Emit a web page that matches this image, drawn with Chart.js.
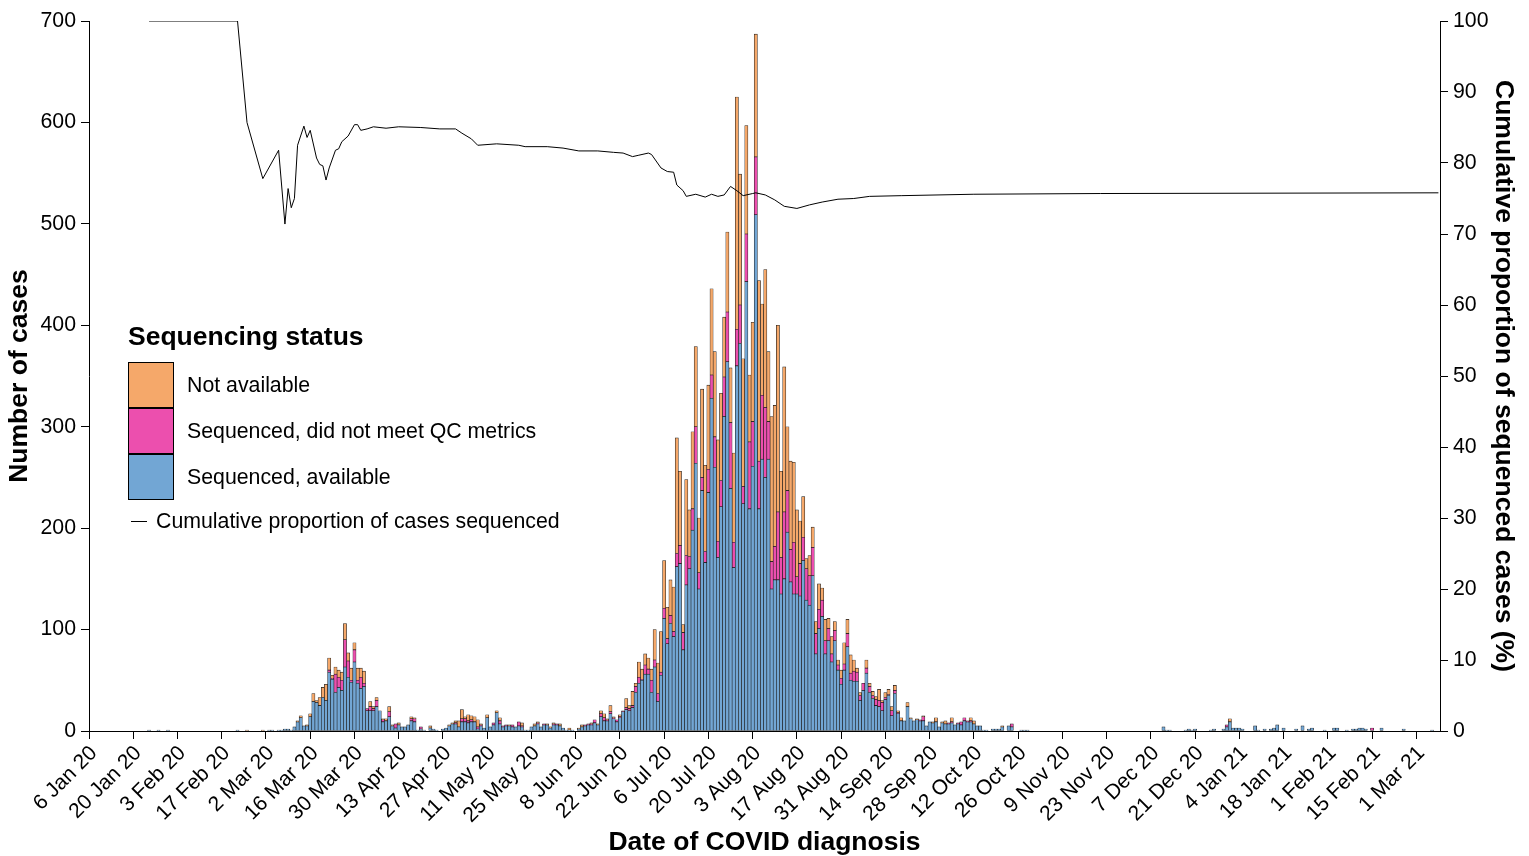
<!DOCTYPE html>
<html lang="en">
<head>
  <meta charset="UTF-8" />
  <title>Sequencing status by date of COVID diagnosis</title>
  <style>
    body {
      margin: 0;
      background: #fff;
    }

    .wrap {
      position: relative;
      width: 1529px;
      height: 856px;
      font-family: 'Liberation Sans', Arial, sans-serif;
      color: #000;
    }

    canvas {
      position: absolute;
      left: 0;
      top: 0;
    }

    .legend-title {
      position: absolute;
      left: 128px;
      top: 321px;
      font-weight: bold;
      font-size: 26.5px;
      line-height: 30px;
      white-space: nowrap;
    }

    .swatch {
      position: absolute;
      left: 128px;
      width: 46px;
      height: 46px;
      box-sizing: border-box;
      border: 1px solid #000;
    }

    .lab {
      position: absolute;
      font-size: 21.3px;
      line-height: 46px;
      height: 46px;
      white-space: nowrap;
    }

    .dash {
      position: absolute;
      left: 131px;
      top: 521px;
      width: 16px;
      border-top: 1.5px solid #000;
    }
  </style>
</head>
<body>
  <div class="wrap">
    <canvas id="casesChart" width="1529" height="856"></canvas>

    <div class="legend-title">Sequencing status</div>
    <div class="swatch" style="top:362px; background:#F5A86A;"></div>
    <div class="swatch" style="top:408px; background:#EC4FAE;"></div>
    <div class="swatch" style="top:454px; background:#72A6D4;"></div>
    <div class="lab" style="left:187px; top:362px;">Not available</div>
    <div class="lab" style="left:187px; top:408px;">Sequenced, did not meet QC metrics</div>
    <div class="lab" style="left:187px; top:454px;">Sequenced, available</div>
    <div class="dash"></div>
    <div class="lab" style="left:156px; top:498px;">Cumulative proportion of cases sequenced</div>
  </div>

  <script src="https://cdn.jsdelivr.net/npm/chart.js"></script>
<script>
  // day numbers count from 6 Jan 2020 (day 0)
  const months = ['Jan', 'Feb', 'Mar', 'Apr', 'May', 'Jun', 'Jul', 'Aug', 'Sep', 'Oct', 'Nov', 'Dec'];

  // a few isolated cases before the first wave
  const earlyDays = [19, 22, 25, 47, 50];
  const earlyAvailable = [1, 1, 1, 1, 0];
  const earlyFailedQC = [0, 0, 0, 0, 0];
  const earlyNotAvailable = [0, 0, 0, 0, 1];

  // consecutive days 55 .. 297, ten per row
  const mainFirstDay = 55;
  const mainAvailable = [
    0, 0, 1, 1, 0, 1, 1, 2, 2, 1,
    4, 9, 13, 5, 5, 14, 29, 28, 25, 33,
    30, 58, 51, 38, 43, 40, 63, 53, 48, 68,
    47, 42, 44, 20, 20, 20, 24, 20, 9, 10,
    14, 5, 3, 6, 4, 4, 6, 10, 9, 1,
    2, 1, 0, 3, 2, 1, 0, 2, 3, 5,
    7, 7, 4, 9, 9, 8, 9, 9, 2, 5,
    3, 13, 4, 6, 18, 7, 4, 5, 5, 4,
    4, 5, 4, 1, 1, 4, 5, 7, 4, 6,
    6, 3, 6, 6, 5, 3, 1, 1, 1, 0,
    2, 4, 5, 6, 6, 8, 6, 14, 10, 10,
    17, 12, 9, 13, 19, 21, 20, 23, 38, 47,
    50, 56, 56, 38, 63, 29, 55, 111, 86, 106,
    93, 162, 165, 80, 144, 160, 198, 264, 140, 237,
    166, 235, 328, 260, 171, 221, 310, 364, 239, 161,
    360, 382, 224, 443, 219, 261, 509, 219, 268, 250,
    268, 140, 149, 149, 135, 150, 196, 147, 135, 135,
    133, 168, 129, 124, 153, 76, 101, 113, 76, 89,
    68, 89, 60, 46, 60, 83, 50, 49, 49, 30,
    40, 57, 38, 32, 25, 24, 20, 31, 35, 15,
    37, 17, 10, 10, 24, 12, 10, 11, 10, 10,
    5, 9, 8, 9, 4, 8, 7, 7, 8, 6,
    7, 6, 10, 9, 9, 7, 5, 5, 1, 1,
    0, 2, 2, 2, 4, 0, 5, 4, 0, 0,
    1, 1, 1
  ];
  const mainFailedQC = [
    0, 0, 0, 0, 0, 0, 0, 0, 0, 0,
    0, 0, 0, 0, 0, 0, 0, 0, 0, 0,
    0, 2, 1, 18, 10, 10, 27, 16, 2, 12,
    3, 11, 3, 2, 4, 2, 6, 0, 2, 0,
    5, 0, 4, 0, 0, 0, 0, 2, 3, 0,
    2, 0, 0, 0, 0, 0, 0, 0, 0, 0,
    0, 1, 0, 3, 3, 2, 2, 0, 2, 1,
    0, 0, 0, 2, 0, 3, 1, 1, 0, 2,
    0, 4, 1, 0, 0, 0, 0, 1, 0, 1,
    0, 0, 1, 1, 0, 0, 0, 0, 0, 0,
    0, 0, 1, 1, 1, 3, 0, 3, 3, 1,
    2, 1, 2, 1, 1, 2, 2, 2, 6, 6,
    1, 9, 5, 12, 7, 8, 3, 10, 5, 8,
    5, 13, 18, 17, 29, 12, 21, 36, 16, 13,
    11, 23, 23, 30, 16, 26, 39, 49, 65, 25,
    36, 38, 17, 47, 66, 44, 57, 47, 63, 69,
    37, 27, 33, 67, 36, 66, 41, 32, 51, 17,
    32, 23, 31, 29, 28, 20, 19, 16, 13, 12,
    8, 10, 5, 6, 6, 13, 7, 10, 9, 5,
    7, 5, 6, 3, 6, 6, 8, 2, 1, 5,
    3, 1, 0, 0, 0, 0, 0, 0, 1, 4,
    0, 0, 0, 0, 0, 0, 0, 1, 1, 0,
    1, 3, 3, 1, 1, 0, 0, 0, 0, 0,
    0, 0, 0, 0, 0, 0, 0, 3, 0, 0,
    0, 0, 0
  ];
  const mainNotAvailable = [
    1, 0, 0, 0, 0, 0, 0, 0, 0, 0,
    0, 1, 2, 0, 1, 3, 8, 2, 8, 10,
    16, 12, 3, 7, 7, 8, 16, 8, 12, 7,
    12, 9, 12, 0, 5, 2, 3, 0, 1, 2,
    5, 1, 0, 2, 0, 0, 0, 2, 1, 0,
    0, 0, 0, 2, 0, 0, 0, 0, 0, 1,
    1, 2, 6, 9, 2, 6, 4, 5, 7, 1,
    0, 3, 0, 0, 2, 3, 0, 0, 1, 0,
    0, 0, 3, 0, 0, 0, 2, 1, 0, 0,
    1, 1, 1, 0, 2, 0, 0, 2, 0, 0,
    1, 2, 0, 0, 1, 0, 1, 3, 4, 1,
    6, 1, 0, 2, 0, 9, 3, 14, 3, 15,
    10, 11, 11, 11, 30, 30, 40, 47, 31, 35,
    44, 114, 73, 8, 75, 46, 76, 79, 54, 87,
    85, 83, 85, 84, 100, 86, 59, 79, 54, 88,
    229, 129, 126, 107, 66, 98, 121, 178, 90, 136,
    69, 143, 139, 184, 85, 143, 63, 87, 79, 66,
    42, 40, 10, 20, 20, 12, 25, 12, 21, 10,
    17, 9, 5, 8, 21, 14, 18, 11, 4, 3,
    0, 8, 3, 4, 3, 11, 2, 5, 5, 4,
    5, 2, 3, 0, 4, 1, 0, 1, 0, 1,
    0, 0, 1, 4, 0, 1, 3, 0, 4, 0,
    0, 0, 0, 0, 3, 3, 0, 0, 0, 0,
    0, 0, 0, 0, 1, 0, 0, 0, 0, 0,
    0, 0, 0
  ];

  // scattered cases in winter 2020/21
  const tailDays = [
    340, 341, 342, 347, 348, 349, 350, 355, 356, 359,
    360, 361, 362, 363, 364, 365, 369, 370, 372, 374,
    375, 376, 378, 382, 384, 386, 387, 391, 394, 395,
    398, 400, 401, 402, 403, 404, 406, 409, 416, 425
  ];
  const tailAvailable = [
    4, 1, 1, 1, 2, 1, 2, 1, 2, 2,
    4, 9, 3, 3, 3, 2, 5, 1, 2, 2,
    3, 6, 3, 2, 5, 2, 3, 1, 3, 3,
    1, 2, 2, 3, 3, 2, 0, 3, 2, 1
  ];
  const tailFailedQC = [
    0, 0, 0, 0, 0, 0, 0, 0, 0, 0,
    2, 0, 0, 0, 0, 0, 0, 0, 0, 0,
    0, 0, 0, 0, 0, 0, 0, 0, 0, 0,
    0, 0, 0, 0, 0, 0, 3, 0, 0, 0
  ];
  const tailNotAvailable = [
    0, 0, 0, 0, 0, 0, 0, 0, 0, 0,
    0, 3, 0, 0, 0, 0, 0, 0, 0, 0,
    0, 0, 0, 0, 0, 0, 0, 0, 0, 0,
    0, 0, 0, 0, 0, 0, 0, 0, 0, 0
  ];

  // cumulative proportion of cases sequenced (%), read at these days
  const lineDays = [
    19, 47, 50, 55, 60, 62, 63, 64, 65, 66, 68, 69, 70, 72, 73, 74, 75, 76, 78, 79,
    80, 82, 84, 85, 86, 88, 90, 94, 98, 105, 111, 116, 118, 121, 123, 129, 136, 138, 145, 150,
    155, 161, 166, 169, 172, 174, 177, 178, 181, 183, 185, 186, 188, 189, 192, 195, 197, 199, 201, 203,
    205, 207, 210, 211, 214, 217, 220, 224, 228, 232, 237, 242, 247, 257, 280, 320, 427
  ];
  const cumulativePct = [
    100, 100, 85.7, 77.8, 81.8, 71.4, 76.4, 73.7, 75.0, 82.5, 85.2, 83.6, 84.6, 80.7, 79.8, 79.6, 77.6, 79.3, 81.8, 82.0,
    83.0, 83.8, 85.4, 85.4, 84.6, 84.8, 85.1, 84.9, 85.1, 85.0, 84.8, 84.8, 84.2, 83.4, 82.5, 82.7, 82.5, 82.3, 82.3, 82.1,
    81.7, 81.7, 81.5, 81.4, 80.9, 81.1, 81.4, 81.2, 79.3, 78.8, 78.7, 76.9, 76.1, 75.3, 75.6, 75.2, 75.6, 75.3, 75.5, 76.7,
    76.1, 75.4, 75.7, 75.8, 75.5, 74.8, 73.9, 73.6, 74.1, 74.5, 74.9, 75.0, 75.3, 75.4, 75.6, 75.7, 75.8
  ];

  const ORANGE = '#F5A86A';
  const PINK = '#EC4FAE';
  const BLUE = '#72A6D4';
  const FONT = "'Liberation Sans', Arial, sans-serif";

  const mainDays = [];
  for (let i = 0; i < mainAvailable.length; i++) mainDays.push(mainFirstDay + i);

  const barDays = earlyDays.concat(mainDays, tailDays);
  const available = earlyAvailable.concat(mainAvailable, tailAvailable);
  const failedQC = earlyFailedQC.concat(mainFailedQC, tailFailedQC);
  const notAvailable = earlyNotAvailable.concat(mainNotAvailable, tailNotAvailable);

  function points(values) {
    return barDays.map((d, i) => ({ x: d, y: values[i] })).filter(p => p.y > 0);
  }

  function dayLabel(v) {
    const d = new Date(Date.UTC(2020, 0, 6) + v * 86400000);
    return d.getUTCDate() + ' ' + months[d.getUTCMonth()] + ' ' + String(d.getUTCFullYear()).slice(2);
  }

  function barSet(label, values, color) {
    return {
      type: 'bar',
      label: label,
      data: points(values),
      backgroundColor: color,
      borderColor: '#1a1a1a',
      borderWidth: 0.6,
      borderSkipped: false,
      barPercentage: 1,
      categoryPercentage: 1,
      stack: 'cases',
      yAxisID: 'y',
      order: 1
    };
  }

  const ctx = document.getElementById('casesChart').getContext('2d');
  new Chart(ctx, {
    type: 'bar',
    data: {
      datasets: [
        barSet('Sequenced, available', available, BLUE),
        barSet('Sequenced, did not meet QC metrics', failedQC, PINK),
        barSet('Not available', notAvailable, ORANGE),
        {
          type: 'line',
          label: 'Cumulative proportion of cases sequenced',
          data: lineDays.map((d, i) => ({ x: d, y: cumulativePct[i] })),
          borderColor: '#000',
          borderWidth: 1,
          pointRadius: 0,
          tension: 0,
          fill: false,
          yAxisID: 'y1',
          order: 0
        }
      ]
    },
    options: {
      responsive: false,
      animation: false,
      devicePixelRatio: 1,
      layout: { padding: { top: 21, left: 0, right: 0, bottom: 0 } },
      plugins: {
        legend: { display: false },
        tooltip: { enabled: false }
      },
      scales: {
        x: {
          type: 'linear',
          min: 0,
          max: 427.5,
          offset: false,
          stacked: true,
          afterFit: s => { s.height = 125; },
          grid: { drawOnChartArea: false, offset: false, tickLength: 8, tickColor: '#000' },
          border: { display: true, color: '#000', width: 1 },
          ticks: {
            stepSize: 14,
            includeBounds: false,
            autoSkip: false,
            maxTicksLimit: 100,
            minRotation: 45,
            maxRotation: 45,
            padding: 2,
            labelOffset: 5,
            color: '#000',
            font: { family: FONT, size: 21 },
            callback: v => dayLabel(v)
          },
          title: {
            display: true,
            text: 'Date of COVID diagnosis',
            color: '#000',
            font: { family: FONT, size: 26.5, weight: 'bold', lineHeight: 1 },
            padding: { top: 0, bottom: 0 }
          }
        },
        y: {
          position: 'left',
          stacked: true,
          min: 0,
          max: 700,
          afterFit: s => { s.width = 89; },
          grid: { drawOnChartArea: false, tickLength: 8, tickColor: '#000' },
          border: { display: true, color: '#000', width: 1 },
          ticks: { stepSize: 100, padding: 5, color: '#000', font: { family: FONT, size: 21.3 } },
          title: {
            display: true,
            text: 'Number of cases',
            color: '#000',
            font: { family: FONT, size: 26.5, weight: 'bold', lineHeight: 1.2 },
            padding: { top: 4, bottom: 0 }
          }
        },
        y1: {
          position: 'right',
          min: 0,
          max: 100,
          afterFit: s => { s.width = 89; },
          grid: { drawOnChartArea: false, tickLength: 8, tickColor: '#000' },
          border: { display: true, color: '#000', width: 1 },
          ticks: { stepSize: 10, padding: 5, color: '#000', font: { family: FONT, size: 21.3 } },
          title: {
            display: true,
            text: 'Cumulative proportion of sequenced cases (%)',
            color: '#000',
            font: { family: FONT, size: 26.5, weight: 'bold', lineHeight: 1.2 },
            padding: { top: 10, bottom: 0 }
          }
        }
      }
    }
  });
</script>
</body>
</html>
